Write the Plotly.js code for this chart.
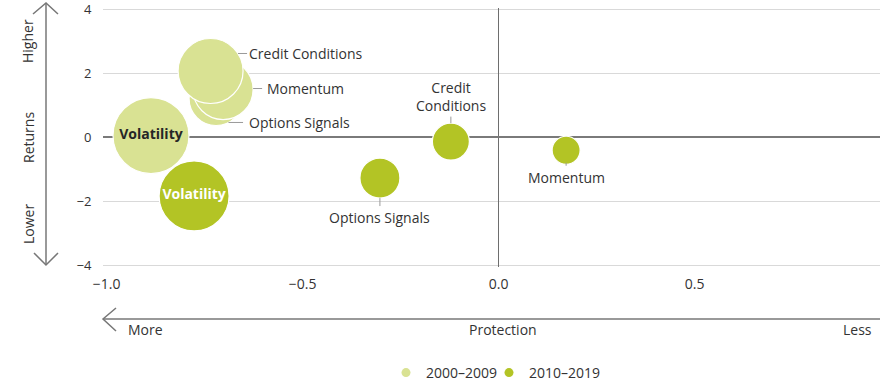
<!DOCTYPE html>
<html>
<head>
<meta charset="utf-8">
<script src="https://cdn.plot.ly/plotly-3.0.1.min.js"></script>
<style>html,body{margin:0;padding:0;background:#fff;}#chart{width:880px;height:382px;}</style>
</head>
<body>
<div id="chart"></div>
<script>
// ---- data ----
const cats2000 = ['Volatility', 'Options Signals', 'Momentum', 'Credit Conditions'];
const x2000 = [-0.887, -0.721, -0.703, -0.735];
const y2000 = [0.05, 1.21, 1.49, 2.07];
const size2000 = [76, 54, 60, 65];

const cats2010 = ['Volatility', 'Options Signals', 'Credit Conditions', 'Momentum'];
const x2010 = [-0.777, -0.303, -0.122, 0.172];
const y2010 = [-1.84, -1.28, -0.14, -0.41];
const size2010 = [70, 40, 37, 28];

const seriesNames = ['2000–2009', '2010–2019'];
const xTickVals = [-1.0, -0.5, 0.0, 0.5];
const yTickVals = [-4, -2, 0, 2, 4];

// ---- style ----
const LIGHT = '#d9e293';
const DARK = '#b3c425';
const TXT = '#333333';
const FONT = 'Open Sans, Noto Sans, sans-serif';

const M = {l: 103, r: 0, t: 8, b: 115, autoexpand: false};
const W = 880 - M.l - M.r, H = 382 - M.t - M.b;
const px = v => (v - M.l) / W;              // pixel x -> paper
const py = v => (382 - M.b - v) / H;         // pixel y -> paper

function labelText(cats, name) {
  return cats.map(c => c === name ? '<b>' + c + '</b>' : '');
}

const traces = [
  {
    type: 'scatter', mode: 'markers+text', name: seriesNames[0], showlegend: false,
    x: x2000, y: y2000, text: labelText(cats2000, 'Volatility'),
    textposition: 'middle center',
    textfont: {family: FONT, size: 14, color: '#262626'},
    marker: {size: size2000, sizemode: 'diameter', sizeref: 1, color: LIGHT, opacity: 1,
             line: {color: '#ffffff', width: 1.2}},
    hoverinfo: 'skip'
  },
  {
    type: 'scatter', mode: 'markers+text', name: seriesNames[1], showlegend: false,
    x: x2010, y: y2010, text: labelText(cats2010, 'Volatility'),
    textposition: 'middle center',
    textfont: {family: FONT, size: 14, color: '#ffffff'},
    marker: {size: size2010, sizemode: 'diameter', sizeref: 1, color: DARK, opacity: 1,
             line: {color: '#ffffff', width: 1.2}},
    hoverinfo: 'skip'
  },
  // legend entries
  {type: 'scatter', mode: 'markers', name: seriesNames[0], x: [null], y: [null], legend: 'legend',
   marker: {size: 9, color: LIGHT}},
  {type: 'scatter', mode: 'markers', name: seriesNames[1], x: [null], y: [null], legend: 'legend2',
   marker: {size: 9, color: DARK}}
];

function idx(cats, n) { return cats.indexOf(n); }
const lf = {family: FONT, size: 14, color: TXT};
const leader = {showarrow: true, arrowhead: 0, arrowwidth: 1, arrowcolor: '#9a9a9a', xref: 'x', yref: 'y'};

const annotations = [
  Object.assign({}, leader, {
    x: x2000[idx(cats2000, 'Credit Conditions')], y: y2000[idx(cats2000, 'Credit Conditions')],
    text: 'Credit Conditions', xanchor: 'left', yanchor: 'middle',
    ax: 36.5, ay: 0, yshift: 17.5, standoff: 27.4, font: lf}),
  Object.assign({}, leader, {
    x: x2000[idx(cats2000, 'Momentum')], y: y2000[idx(cats2000, 'Momentum')],
    text: 'Momentum', xanchor: 'left', yanchor: 'middle',
    ax: 42, ay: 0, yshift: 1, standoff: 30, startstandoff: 3, font: lf}),
  Object.assign({}, leader, {
    x: x2000[idx(cats2000, 'Options Signals')], y: y2000[idx(cats2000, 'Options Signals')],
    text: 'Options Signals', xanchor: 'left', yanchor: 'middle',
    ax: 31, ay: 0, yshift: -24, standoff: 12.4, startstandoff: 4, font: lf}),
  Object.assign({}, leader, {
    x: x2010[idx(cats2010, 'Credit Conditions')], y: y2010[idx(cats2010, 'Credit Conditions')],
    text: 'Credit<br>Conditions', align: 'center', xanchor: 'center', yanchor: 'bottom',
    ax: 0, ay: -25, standoff: 18.5, font: lf}),
  Object.assign({}, leader, {
    x: x2010[idx(cats2010, 'Options Signals')], y: y2010[idx(cats2010, 'Options Signals')],
    text: 'Options Signals', xanchor: 'center', yanchor: 'top',
    ax: 0, ay: 28, standoff: 20, font: lf}),
  Object.assign({}, leader, {
    x: x2010[idx(cats2010, 'Momentum')], y: y2010[idx(cats2010, 'Momentum')],
    text: 'Momentum', xanchor: 'center', yanchor: 'top',
    ax: 0, ay: 15.5, standoff: 12.5, font: lf}),
  // axis direction texts
  {xref: 'paper', yref: 'paper', x: px(28), y: py(41), text: 'Higher', textangle: -90, showarrow: false, font: lf, xanchor: 'center', yanchor: 'middle'},
  {xref: 'paper', yref: 'paper', x: px(28), y: py(138), text: 'Returns', textangle: -90, showarrow: false, font: lf, xanchor: 'center', yanchor: 'middle'},
  {xref: 'paper', yref: 'paper', x: px(28), y: py(224), text: 'Lower', textangle: -90, showarrow: false, font: lf, xanchor: 'center', yanchor: 'middle'},
  {xref: 'paper', yref: 'paper', x: px(145), y: py(329), text: 'More', showarrow: false, font: lf, xanchor: 'center', yanchor: 'middle'},
  {xref: 'paper', yref: 'paper', x: px(503), y: py(329), text: 'Protection', showarrow: false, font: lf, xanchor: 'center', yanchor: 'middle'},
  {xref: 'paper', yref: 'paper', x: px(857), y: py(329), text: 'Less', showarrow: false, font: lf, xanchor: 'center', yanchor: 'middle'}
];

const arrowLine = {color: '#777777', width: 1.5};
const P = (x, y) => px(x).toFixed(5) + ',' + py(y).toFixed(5);
const shapes = [
  {type: 'line', xref: 'paper', yref: 'paper', x0: px(46), x1: px(46), y0: py(3), y1: py(265), line: arrowLine},
  {type: 'path', xref: 'paper', yref: 'paper', path: 'M' + P(33, 14) + 'L' + P(46, 3) + 'L' + P(58, 14), line: arrowLine},
  {type: 'path', xref: 'paper', yref: 'paper', path: 'M' + P(34, 253) + 'L' + P(46, 265) + 'L' + P(58, 253), line: arrowLine},
  {type: 'line', xref: 'paper', yref: 'paper', x0: px(103), x1: px(880), y0: py(319), y1: py(319), line: arrowLine},
  {type: 'path', xref: 'paper', yref: 'paper', path: 'M' + P(116, 308) + 'L' + P(103, 319) + 'L' + P(116, 331), line: arrowLine}
];

const legendBase = {orientation: 'h', xanchor: 'left', yanchor: 'middle', y: py(373),
                    font: {family: FONT, size: 14, color: TXT}, itemwidth: 30, bgcolor: 'rgba(0,0,0,0)'};

const layout = {
  width: 880, height: 382,
  margin: M,
  paper_bgcolor: '#ffffff', plot_bgcolor: '#ffffff',
  font: {family: FONT, size: 14, color: TXT},
  showlegend: true,
  legend: Object.assign({}, legendBase, {x: px(386)}),
  legend2: Object.assign({}, legendBase, {x: px(489)}),
  xaxis: {
    range: [-1.0094, 0.9727], showgrid: false, zeroline: true, zerolinecolor: '#6e6e6e', zerolinewidth: 1,
    tickvals: xTickVals, tickformat: '.1f', ticks: 'outside', ticklen: 4, tickcolor: 'rgba(0,0,0,0)',
    ticklabeloverflow: 'allow',
    showline: false, tickfont: {family: FONT, size: 14, color: TXT}, fixedrange: true
  },
  yaxis: {
    range: [-4.0626, 4.0407], showgrid: true, gridcolor: '#d9d9d9', gridwidth: 1,
    zeroline: true, zerolinecolor: '#7a7a7a', zerolinewidth: 1.5,
    tickvals: yTickVals, ticks: 'outside', ticklen: 8, tickcolor: 'rgba(0,0,0,0)', ticklabeloverflow: 'allow',
    showline: false, tickfont: {family: FONT, size: 13, color: TXT}, fixedrange: true
  },
  annotations: annotations,
  shapes: shapes
};

Plotly.newPlot('chart', traces, layout, {displayModeBar: false, staticPlot: true});
</script>
</body>
</html>
